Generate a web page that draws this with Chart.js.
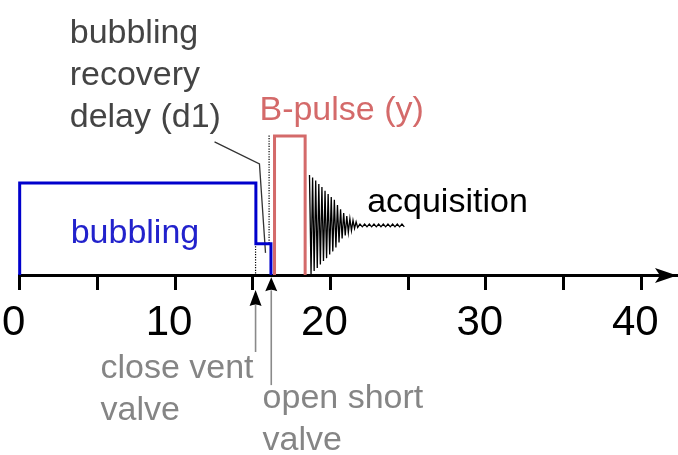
<!DOCTYPE html>
<html>
<head>
<meta charset="utf-8">
<script src="https://cdn.jsdelivr.net/npm/chart.js@4/dist/chart.umd.min.js"></script>
<style>
  html, body { margin: 0; padding: 0; background: #fff; }
  #wrap { width: 678px; height: 455px; }
</style>
</head>
<body>
<div id="wrap"><canvas id="seq" width="678" height="455"></canvas></div>
<script>
// ---- time axis (ms) ----
const tickValues = [0, 5, 10, 15, 20, 25, 30, 35, 40];
const tickLabels = ['0', '', '10', '', '20', '', '30', '', '40'];

// ---- bubbling gas flow (high, then reduced during the recovery delay) ----
const bubblingTime  = [0, 0, 15.2, 15.2, 16.17, 16.17];
const bubblingLevel = [0, 3, 3, 1.02, 1.02, 0];

// ---- B-pulse (y) ----
const pulseTime  = [16.4, 16.4, 18.37, 18.37];
const pulseLevel = [0, 4.53, 4.53, 0];

// ---- acquisition: decaying FID followed by a small residual ----
const fidTime = [
  18.65, 18.75, 18.85, 18.95, 19.05, 19.15, 19.25, 19.35, 19.45, 19.55,
  19.65, 19.75, 19.85, 19.95, 20.05, 20.15, 20.25, 20.35, 20.45, 20.55,
  20.65, 20.75, 20.85, 20.95, 21.05, 21.15, 21.25, 21.35, 21.45, 21.55,
  21.65, 21.75,
  21.9, 22.05, 22.2, 22.35, 22.5, 22.65, 22.8, 22.95, 23.1, 23.25,
  23.4, 23.55, 23.7, 23.85, 24.0, 24.15, 24.3, 24.45, 24.6, 24.75
];
const fidSignal = [
  3.26, 0.03, 3.18, 0.13, 3.08, 0.23, 2.97, 0.34, 2.87, 0.46,
  2.75, 0.55, 2.64, 0.67, 2.54, 0.77, 2.45, 0.90, 2.28, 1.06,
  2.14, 1.19, 2.02, 1.29, 1.92, 1.39, 1.84, 1.45, 1.78, 1.52,
  1.73, 1.55,
  1.66, 1.57, 1.66, 1.57, 1.66, 1.57, 1.66, 1.57, 1.66, 1.57,
  1.66, 1.57, 1.66, 1.57, 1.66, 1.57, 1.66, 1.57, 1.66, 1.57
];

// ---- event markers ----
const closeVentTime = 15.18;      // close vent valve
const openShortTime = 16.19;      // open short valve
const delayMarkTime = 16.05;      // end of recovery delay (dotted guide)
const closeVentGuide = [1.02, 0];
const delayGuide     = [4.55, 1.02];
const closeVentShaft = [-2.51, -0.98];
const openShortShaft = [-3.59, -0.5];
const closeVentTip   = [-0.49, -1.01];   // tip, base
const openShortTip   = [-0.07, -0.53];

// ---- leader from the d1 label to the recovery step ----
const leaderTime  = [12.54, 15.43, 15.82];
const leaderLevel = [4.34, 3.62, 0.72];

const pts = (xs, ys) => xs.map((x, i) => ({ x: x, y: ys[i] }));
const FONT = '"Liberation Sans", Arial, Helvetica, sans-serif';

// text annotations, anchored in axis units (left edge, first baseline)
const notes = [
  { lines: ['bubbling', 'recovery', 'delay (d1)'], x: 3.22, y: 7.56, color: '#444444' },
  { lines: ['B-pulse (y)'], x: 15.43, y: 5.05, color: '#d46a6a' },
  { lines: ['acquisition'], x: 22.36, y: 2.05, color: '#000000' },
  { lines: ['bubbling'], x: 3.28, y: 1.04, color: '#2222cc' },
  { lines: ['close vent', 'valve'], x: 5.2, y: -3.36, color: '#858585' },
  { lines: ['open short', 'valve'], x: 15.63, y: -4.34, color: '#858585' }
];

const overlay = {
  id: 'overlay',
  afterDatasetsDraw(chart) {
    const ctx = chart.ctx;
    const xs = chart.scales.x, ys = chart.scales.y;
    ctx.save();

    // arrowhead closing the time axis
    const ax = xs.getPixelForValue(xs.max);
    const ay = ys.getPixelForValue(0) + 0.5;
    ctx.fillStyle = '#000';
    ctx.beginPath();
    ctx.moveTo(ax, ay);
    ctx.lineTo(ax - 22, ay - 7.5);
    ctx.lineTo(ax - 17, ay);
    ctx.lineTo(ax - 22, ay + 7.5);
    ctx.closePath();
    ctx.fill();

    // valve event arrowheads
    const head = (t, tipBase) => {
      const px = xs.getPixelForValue(t);
      const tip = ys.getPixelForValue(tipBase[0]);
      const base = ys.getPixelForValue(tipBase[1]);
      ctx.beginPath();
      ctx.moveTo(px, tip);
      ctx.lineTo(px - 6, base);
      ctx.quadraticCurveTo(px, base - 3, px + 6, base);
      ctx.closePath();
      ctx.fill();
    };
    head(closeVentTime, closeVentTip);
    head(openShortTime, openShortTip);

    // labels
    ctx.font = '34px ' + FONT;
    ctx.textBaseline = 'alphabetic';
    ctx.textAlign = 'left';
    notes.forEach(n => {
      ctx.fillStyle = n.color;
      const px = xs.getPixelForValue(n.x);
      const py = ys.getPixelForValue(n.y);
      n.lines.forEach((s, i) => ctx.fillText(s, px, py + i * 41.8));
    });
    ctx.restore();
  }
};

new Chart(document.getElementById('seq'), {
  type: 'line',
  data: {
    datasets: [
      { data: pts(fidTime, fidSignal), borderColor: '#000', borderWidth: 1.3, clip: false },
      { data: pts(pulseTime, pulseLevel), borderColor: '#d46a6a', borderWidth: 3, clip: false },
      { data: pts(bubblingTime, bubblingLevel), borderColor: '#0000cc', borderWidth: 3, clip: false },
      { data: pts([closeVentTime, closeVentTime], closeVentGuide), borderColor: '#000', borderWidth: 1.2, borderDash: [1.2, 1.4], clip: false },
      { data: pts([delayMarkTime, delayMarkTime], delayGuide), borderColor: '#000', borderWidth: 1.2, borderDash: [1.2, 1.4], clip: false },
      { data: pts(leaderTime, leaderLevel), borderColor: '#333', borderWidth: 1.3, clip: false },
      { data: pts([closeVentTime, closeVentTime], closeVentShaft), borderColor: '#8a8a8a', borderWidth: 1.6, clip: false },
      { data: pts([openShortTime, openShortTime], openShortShaft), borderColor: '#8a8a8a', borderWidth: 1.6, clip: false }
    ]
  },
  options: {
    responsive: false,
    animation: false,
    devicePixelRatio: 1,
    layout: { padding: { left: 19, right: 1, top: 0, bottom: 0 } },
    plugins: { legend: { display: false }, tooltip: { enabled: false } },
    elements: { point: { radius: 0 }, line: { tension: 0, fill: false } },
    scales: {
      x: {
        type: 'linear',
        min: 0,
        max: 42.3,
        afterFit(scale) { scale.height = 180; },
        afterBuildTicks(scale) { scale.ticks = tickValues.map(v => ({ value: v })); },
        ticks: {
          includeBounds: false,
          autoSkip: false,
          maxRotation: 0,
          labelOffset: -6,
          padding: 8,
          color: '#000',
          font: { family: FONT, size: 42 },
          callback: (v) => tickLabels[tickValues.indexOf(v)]
        },
        grid: {
          drawOnChartArea: false,
          drawTicks: true,
          tickLength: 15,
          tickWidth: 3,
          tickColor: '#000',
          color: '#000'
        },
        border: { display: true, color: '#000', width: 3 }
      },
      y: { display: false, min: 0, max: 8.967 }
    }
  },
  plugins: [overlay]
});
</script>
</body>
</html>
